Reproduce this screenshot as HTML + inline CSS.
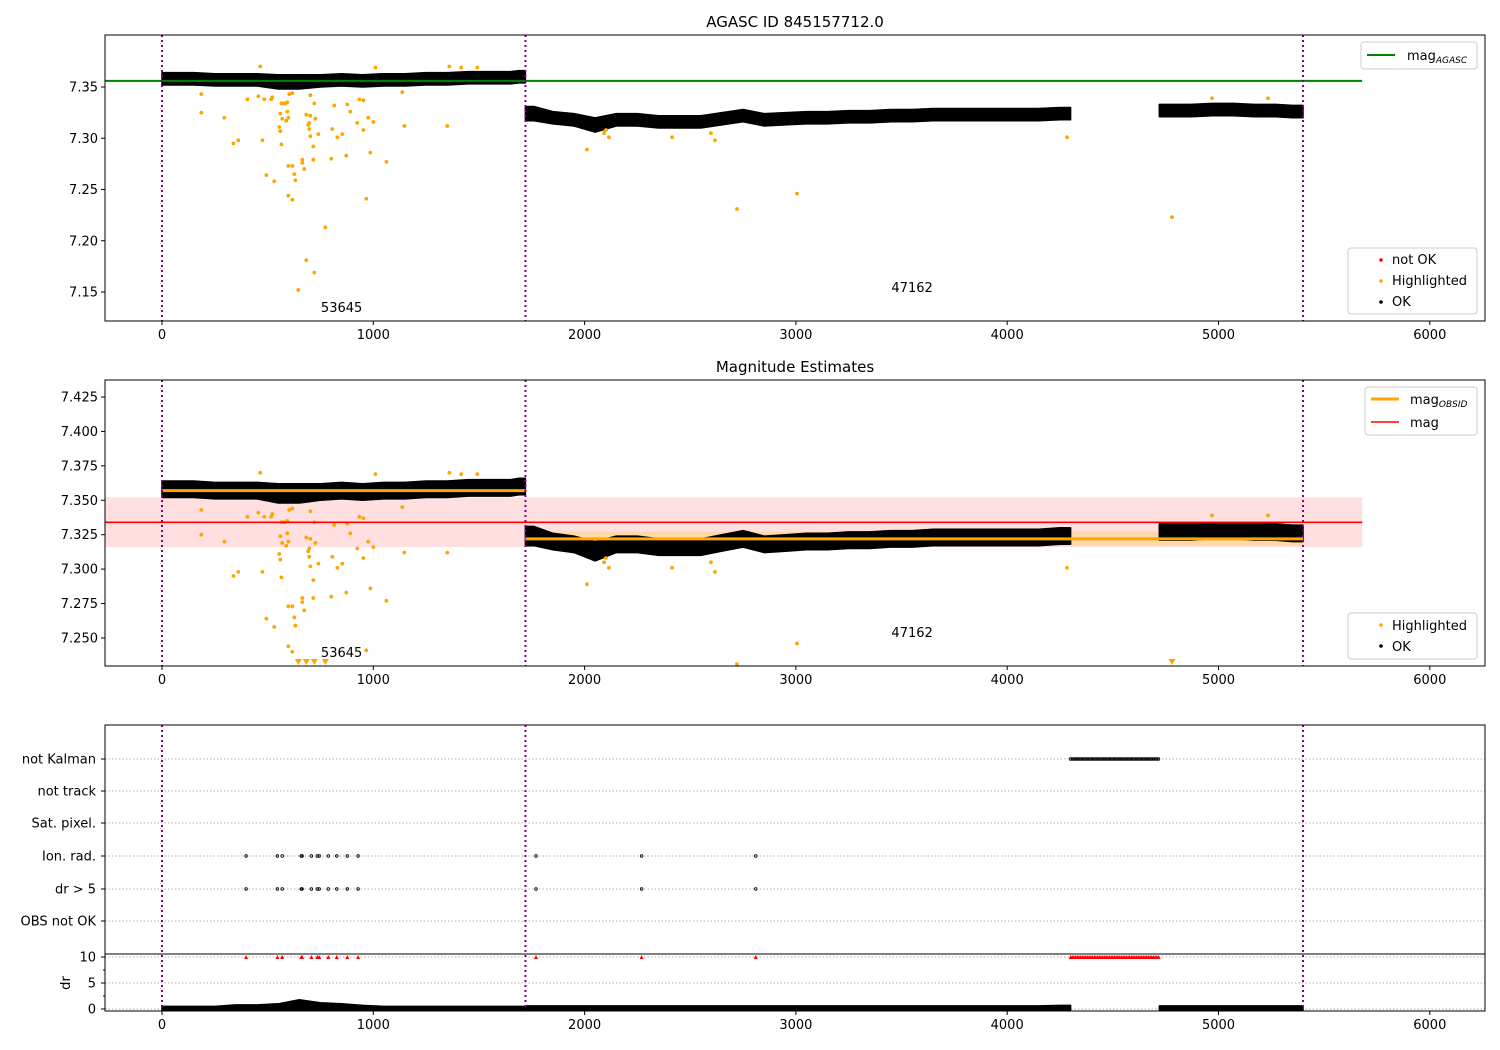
<!DOCTYPE html>
<html><head><meta charset="utf-8"><style>
html,body{margin:0;padding:0;background:#fff;}
svg{display:block;font-family:"DejaVu Sans","Liberation Sans",sans-serif;}
</style></head><body>
<svg id="c" width="1500" height="1050" viewBox="0 0 1500 1050" xmlns="http://www.w3.org/2000/svg"></svg>
<script>
// ---- data ----
const xTicks = [0,1000,2000,3000,4000,5000,6000];
const p1Ticks = [7.15,7.20,7.25,7.30,7.35];
const p2Ticks = [7.250,7.275,7.300,7.325,7.350,7.375,7.400,7.425];
const obsBounds = [0,1720,5400];
const obsLabels = ["53645","47162"];
const obsLabelT = [850,3550];
const segStart = [0,1720,4720];
const segEnd = [1720,4300,5400];
const cloudT = [50,150,250,350,450,550,650,750,850,950,1050,1150,1250,1350,1450,1550,1650,1690,
 1760,1850,1950,2050,2150,2250,2350,2450,2550,2650,2750,2850,2950,3050,3150,3250,3350,3450,3550,3650,3750,3850,3950,4050,4150,4250,
 4770,4870,4970,5070,5170,5270,5350];
const cloudMean = [7.358,7.358,7.357,7.357,7.357,7.355,7.355,7.356,7.357,7.356,7.357,7.357,7.358,7.358,7.359,7.359,7.359,7.360,
 7.324,7.320,7.318,7.313,7.318,7.318,7.316,7.316,7.316,7.319,7.322,7.318,7.319,7.320,7.320,7.321,7.321,7.322,7.322,7.323,7.323,7.323,7.323,7.323,7.323,7.324,
 7.327,7.327,7.328,7.328,7.327,7.327,7.326];
const cloudHalf = [0.006,0.006,0.006,0.006,0.006,0.007,0.007,0.006,0.006,0.006,0.006,0.006,0.006,0.006,0.006,0.006,0.006,0.006,
 0.007,0.006,0.006,0.007,0.006,0.006,0.006,0.006,0.006,0.006,0.006,0.006,0.006,0.006,0.006,0.006,0.006,0.006,0.006,0.006,0.006,0.006,0.006,0.006,0.006,0.006,
 0.006,0.006,0.006,0.006,0.006,0.006,0.006];
const drMax = [0.3,0.3,0.3,0.6,0.6,0.8,1.6,1.0,0.8,0.5,0.3,0.3,0.3,0.3,0.3,0.3,0.3,0.3,
 0.4,0.4,0.4,0.4,0.4,0.4,0.4,0.4,0.4,0.4,0.4,0.4,0.4,0.4,0.4,0.4,0.4,0.4,0.4,0.4,0.4,0.4,0.4,0.4,0.4,0.5,
 0.4,0.4,0.4,0.4,0.4,0.4,0.4];
const hiT = [186,295,338,361,404,456,475,484,494,517,522,531,555,560,560,565,565,569,574,583,588,593,593,598,598,598,602,617,617,617,626,631,645,664,664,673,683,683,692,697,697,702,702,702,716,716,721,721,726,740,773,801,806,815,830,853,872,877,891,924,934,953,953,967,976,986,1000,1062,1137,1147,1350,186,465,1010,1360,1416,1492,
 2101,2092,2115,2011,2414,2598,2617,2721,3005,4283,4780,4969,5234];
const hiMag = [7.325,7.320,7.295,7.298,7.338,7.341,7.298,7.338,7.264,7.338,7.340,7.258,7.311,7.307,7.324,7.334,7.294,7.319,7.334,7.334,7.317,7.326,7.335,7.320,7.273,7.244,7.343,7.344,7.273,7.240,7.265,7.259,7.152,7.279,7.276,7.270,7.323,7.181,7.313,7.315,7.309,7.342,7.322,7.302,7.292,7.279,7.334,7.169,7.319,7.304,7.213,7.280,7.309,7.332,7.301,7.304,7.283,7.333,7.326,7.315,7.338,7.337,7.308,7.241,7.320,7.286,7.316,7.277,7.345,7.312,7.312,7.343,7.370,7.369,7.370,7.369,7.369,
 7.308,7.305,7.301,7.289,7.301,7.305,7.298,7.231,7.246,7.301,7.223,7.339,7.339];
const magAgasc = 7.356;
const magOverall = 7.334;
const magBand = [7.316,7.352];
const obsMag = [7.357,7.322];
const obsBand = [[7.353,7.361],[7.317,7.327]];
const flagCats = ["not Kalman","not track","Sat. pixel.","Ion. rad.","dr > 5","OBS not OK"];
const ionT = [398,546,569,659,663,707,735,744,787,827,877,928,1770,2270,2810];
const drGt5T = [398,546,569,659,663,707,735,744,787,827,877,928,1770,2270,2810];
const kalmanRange = [4300,4720];
const drTicks = [0,5,10];

// ---- helpers ----
const NS="http://www.w3.org/2000/svg";
const svg=document.getElementById('c');
function mk(tag,attrs,parent){const e=document.createElementNS(NS,tag);for(const k in attrs)e.setAttribute(k,attrs[k]);(parent||svg).appendChild(e);return e;}
const L=105,R=1485;
const xs=t=>162+t*0.2113;
const P1={top:35,bot:321,y:v=>87+(7.35-v)*1025,min:7.1217,max:7.4007};
const P2={top:380,bot:666,y:v=>397+(7.425-v)*1377,min:7.2297,max:7.4373};
const catY=[759,791,823,856,889,921];
const drY=v=>1009-v*5.2;

function xAxis(bot,g){
  xTicks.forEach(t=>{
    mk('line',{x1:xs(t),x2:xs(t),y1:bot,y2:bot+4,stroke:'#000'},g);
    const tx=mk('text',{x:xs(t),y:bot+18,'text-anchor':'middle','font-size':13},g);
    tx.textContent=t;
    
    
  });
}
function vlines(top,bot,g){
  obsBounds.forEach(t=>{mk('line',{x1:xs(t),x2:xs(t),y1:top,y2:bot,stroke:'#800080','stroke-width':2,'stroke-dasharray':'2,3'},g);});
}
function segIdx(s){const out=[];cloudT.forEach((t,i)=>{if(t>=segStart[s]&&t<=segEnd[s])out.push(i);});return out;}
function band(yUp,yLo,g,name){
  segStart.forEach((s0,s)=>{
    const idx=segIdx(s);if(!idx.length)return;
    const up=[[xs(s0),yUp(idx[0])]];idx.forEach(i=>up.push([xs(cloudT[i]),yUp(i)]));up.push([xs(segEnd[s]),yUp(idx[idx.length-1])]);
    const lo=[[xs(s0),yLo(idx[0])]];idx.forEach(i=>lo.push([xs(cloudT[i]),yLo(i)]));lo.push([xs(segEnd[s]),yLo(idx[idx.length-1])]);
    const pts=up.concat(lo.reverse()).map(p=>p[0].toFixed(1)+','+p[1].toFixed(1)).join(' ');
    const p=mk('polygon',{points:pts,fill:'#000',stroke:'#000','stroke-width':1.5,'stroke-linejoin':'round'},g);
    
    
  });
}
function cloud(P,g){
  band(i=>P.y(cloudMean[i]+cloudHalf[i]),i=>P.y(cloudMean[i]-cloudHalf[i]),g,'ok-points-band');
}
function highlights(P,g,tri){
  hiT.forEach((t,i)=>{
    const v=hiMag[i];
    if(v<P.min){
      if(tri){const x=xs(t),y=P.bot-1;mk('path',{d:`M${x-3.5},${y-6}L${x+3.5},${y-6}L${x},${y}Z`,fill:'orange'},g);}
      return;
    }
    if(v>P.max)return;
    const c=mk('circle',{cx:xs(t),cy:P.y(v),r:1.9,fill:'orange'},g);
    
    
  });
}
function yAxis(P,ticks,dec,g){
  ticks.forEach(v=>{
    const y=P.y(v);
    mk('line',{x1:L-4,x2:L,y1:y,y2:y,stroke:'#000'},g);
    const tx=mk('text',{x:L-7,y:y+4.5,'text-anchor':'end','font-size':13},g);
    tx.textContent=v.toFixed(dec);
    
    
  });
}
function legendBox(x,y,w,h,g){mk('rect',{x,y,width:w,height:h,fill:'#fff','fill-opacity':0.85,stroke:'#ccc',rx:3},g);}
function txt(s,x,y,attrs,g,name){const t=mk('text',Object.assign({x,y,'font-size':13},attrs||{}),g);t.textContent=s;return t;}

// ---- panel 1 ----
const g1=mk('g',{});


const c1=mk('clipPath',{id:'cp1'});mk('rect',{x:L,y:P1.top,width:R-L,height:P1.bot-P1.top},c1);
const g1c=mk('g',{'clip-path':'url(#cp1)'},g1);
cloud(P1,g1c);
highlights(P1,g1c,false);
mk('line',{x1:L,x2:xs(5680),y1:P1.y(magAgasc),y2:P1.y(magAgasc),stroke:'green','stroke-width':2},g1c);
vlines(P1.top,P1.bot,g1c);
txt(obsLabels[0],xs(obsLabelT[0]),312,{'text-anchor':'middle'},g1,'obsid-label');
txt(obsLabels[1],xs(obsLabelT[1]),292,{'text-anchor':'middle'},g1,'obsid-label');
mk('rect',{x:L,y:P1.top,width:R-L,height:P1.bot-P1.top,fill:'none',stroke:'#000'},g1);
yAxis(P1,p1Ticks,2,g1);
xAxis(P1.bot,g1);
txt('AGASC ID 845157712.0',795,27,{'text-anchor':'middle','font-size':15},g1,'chart-title');
legendBox(1361,42,116,27,g1);
mk('line',{x1:1367,x2:1395,y1:55,y2:55,stroke:'green','stroke-width':2},g1);
const lt=txt('mag',1407,60,{},g1,'legend-mag-agasc');
const ls=mk('tspan',{'font-size':9,'font-style':'italic',dy:3},lt);ls.textContent='AGASC';
legendBox(1348,248,129,66,g1);
mk('circle',{cx:1381,cy:260,r:1.8,fill:'red'},g1);txt('not OK',1392,264,{},g1,'legend-not-ok');
mk('circle',{cx:1381,cy:281,r:1.8,fill:'orange'},g1);txt('Highlighted',1392,285,{},g1,'legend-highlighted');
mk('circle',{cx:1381,cy:302,r:1.8,fill:'#000'},g1);txt('OK',1392,306,{},g1,'legend-ok');

// ---- panel 2 ----
const g2=mk('g',{});


const c2=mk('clipPath',{id:'cp2'});mk('rect',{x:L,y:P2.top,width:R-L,height:P2.bot-P2.top},c2);
const g2c=mk('g',{'clip-path':'url(#cp2)'},g2);
mk('rect',{x:L,y:P2.y(magBand[1]),width:xs(5680)-L,height:P2.y(magBand[0])-P2.y(magBand[1]),fill:'#ffdfe0'},g2c);
[[obsBounds[0],obsBounds[1]],[obsBounds[1],obsBounds[2]]].forEach((s,i)=>{
  mk('rect',{x:xs(s[0]),y:P2.y(obsBand[i][1]),width:xs(s[1])-xs(s[0]),height:P2.y(obsBand[i][0])-P2.y(obsBand[i][1]),fill:'#ffd9a8'},g2c);
});
cloud(P2,g2c);
highlights(P2,g2c,true);
[[obsBounds[0],obsBounds[1]],[obsBounds[1],obsBounds[2]]].forEach((s,i)=>{
  const l=mk('line',{x1:xs(s[0]),x2:xs(s[1]),y1:P2.y(obsMag[i]),y2:P2.y(obsMag[i]),stroke:'orange','stroke-width':3},g2c);
  
  
});
mk('line',{x1:L,x2:xs(5680),y1:P2.y(magOverall),y2:P2.y(magOverall),stroke:'red','stroke-width':1.6},g2c);
vlines(P2.top,P2.bot,g2c);
txt(obsLabels[0],xs(obsLabelT[0]),657,{'text-anchor':'middle'},g2,'obsid-label');
txt(obsLabels[1],xs(obsLabelT[1]),637,{'text-anchor':'middle'},g2,'obsid-label');
mk('rect',{x:L,y:P2.top,width:R-L,height:P2.bot-P2.top,fill:'none',stroke:'#000'},g2);
yAxis(P2,p2Ticks,3,g2);
xAxis(P2.bot,g2);
txt('Magnitude Estimates',795,372,{'text-anchor':'middle','font-size':15},g2,'panel-title');
legendBox(1365,387,112,48,g2);
mk('line',{x1:1371,x2:1399,y1:399,y2:399,stroke:'orange','stroke-width':3},g2);
const lt2=txt('mag',1410,404,{},g2,'legend-mag-obsid');
const ls2=mk('tspan',{'font-size':9,'font-style':'italic',dy:3},lt2);ls2.textContent='OBSID';
mk('line',{x1:1371,x2:1399,y1:422,y2:422,stroke:'red','stroke-width':1.6},g2);
txt('mag',1410,427,{},g2,'legend-mag');
legendBox(1348,613,129,46,g2);
mk('circle',{cx:1381,cy:625,r:1.8,fill:'orange'},g2);txt('Highlighted',1392,630,{},g2,'legend-highlighted');
mk('circle',{cx:1381,cy:646,r:1.8,fill:'#000'},g2);txt('OK',1392,651,{},g2,'legend-ok');

// ---- panel 3 flags ----
const g3=mk('g',{});


flagCats.forEach((c,i)=>{
  mk('line',{x1:L,x2:R,y1:catY[i],y2:catY[i],stroke:'#b0b0b0','stroke-dasharray':'1.5,2'},g3);
  mk('line',{x1:L-4,x2:L,y1:catY[i],y2:catY[i],stroke:'#000'},g3);
  txt(c,L-9,catY[i]+4.5,{'text-anchor':'end'},g3,'flag-label');
});
drTicks.forEach(v=>{
  mk('line',{x1:L,x2:R,y1:drY(v),y2:drY(v),stroke:'#b0b0b0','stroke-dasharray':'1.5,2'},g3);
  mk('line',{x1:L-4,x2:L,y1:drY(v),y2:drY(v),stroke:'#000'},g3);
  txt(String(v),L-9,drY(v)+4.5,{'text-anchor':'end'},g3,'dr-tick-label');
});
[2.5,7.5].forEach(v=>mk('line',{x1:L-2,x2:L,y1:drY(v),y2:drY(v),stroke:'#000'},g3));
txt('dr',70,983,{'text-anchor':'middle',transform:'rotate(-90 70 983)'},g3,'dr-axis-title');
function flagDot(t,y,name){const c=mk('circle',{cx:xs(t),cy:y,r:1.3,fill:'none',stroke:'#000','stroke-width':0.8},g3);}
function redTri(t){const x=xs(t),y=drY(10);const p=mk('path',{d:`M${x-2},${y+2}L${x+2},${y+2}L${x},${y-2}Z`,fill:'red'},g3);}
ionT.forEach(t=>flagDot(t,catY[3],'ion-rad-flag'));
drGt5T.forEach(t=>{flagDot(t,catY[4],'dr-gt5-flag');redTri(t);});
for(let t=kalmanRange[0];t<=kalmanRange[1];t+=8){flagDot(t,catY[0],'not-kalman-flag');redTri(t);}
band(i=>drY(drMax[i])-1,i=>drY(0)+1,g3,'dr-points-band');
vlines(725,1011,g3);
mk('line',{x1:L,x2:R,y1:954,y2:954,stroke:'#000'},g3);
mk('rect',{x:L,y:725,width:R-L,height:1011-725,fill:'none',stroke:'#000'},g3);
xAxis(1011,g3);
</script>
</body></html>
